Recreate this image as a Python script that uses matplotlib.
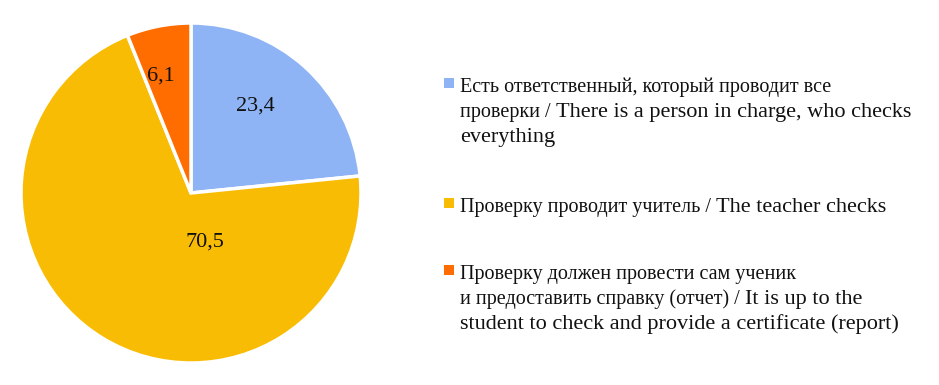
import matplotlib.pyplot as plt
from matplotlib.patches import Rectangle

plt.rcParams['font.family'] = ['Liberation Serif', 'DejaVu Serif']

labels = [
    'Есть ответственный, который проводит все\nпроверки / There is a person in charge, who checks\neverything',
    'Проверку проводит учитель / The teacher checks',
    'Проверку должен провести сам ученик\nи предоставить справку (отчет) / It is up to the\nstudent to check and provide a certificate (report)',
]
values = [23.4, 70.5, 6.1]
value_text = ['23,4', '70,5', '6,1']
colors = ['#8FB4F5', '#F9BC05', '#FF6D00']
# label positions inside the pie (fraction of radius, x/y)
label_pos = [(0.38, 0.51), (0.08, -0.29), (-0.18, 0.69)]
# legend rows: pixel y of the first text baseline of each entry
legend_y = [92, 212, 279]
line_step = 25

# the Cyrillic in the original is set narrower than the Latin text
sizes = {'cyr': 14.5, 'lat': 16}
space_px = 5.5

W, H = 939, 385
fig = plt.figure(figsize=(W / 100, H / 100), dpi=100)
ax = fig.add_axes([21 / W, 22 / H, 340 / W, 340 / H])

wedges, _ = ax.pie(values, colors=colors, startangle=90, counterclock=False,
                   radius=1, wedgeprops=dict(edgecolor='white', linewidth=2.5))
for txt, (x, y) in zip(value_text, label_pos):
    ax.text(x, y, txt, ha='center', va='center', fontsize=16, color='#111111')
ax.set_xlim(-1, 1)
ax.set_ylim(-1, 1)
ax.set_aspect('equal')


def script_runs(line):
    out = []
    cur, kind = '', None
    for ch in line:
        if '\u0400' <= ch <= '\u04ff':
            k = 'cyr'
        elif ch.isalnum():
            k = 'lat'
        else:
            k = None
        if k and kind and k != kind:
            out.append((kind, cur))
            cur = ''
        if k:
            kind = k
        cur += ch
    out.append((kind or 'lat', cur))
    return out


renderer = fig.canvas.get_renderer()

# legend drawn by hand so the marker sits next to the first line (like Excel)
for lab, c, y in zip(labels, colors, legend_y):
    fig.patches.append(Rectangle((444 / W, 1 - (y - 4) / H), 10 / W, 10 / H,
                                 transform=fig.transFigure, facecolor=c,
                                 edgecolor='none'))
    for i, line in enumerate(lab.split('\n')):
        x = 460
        for kind, s in script_runs(line):
            gap = s.endswith(' ')
            s = s.rstrip(' ')
            t = fig.text(x / W, 1 - (y + i * line_step) / H, s, ha='left',
                         va='baseline', fontsize=sizes[kind], color='#111111')
            x = t.get_window_extent(renderer).x1 + (space_px if gap else 0)

fig.savefig('out.png', dpi=100)
